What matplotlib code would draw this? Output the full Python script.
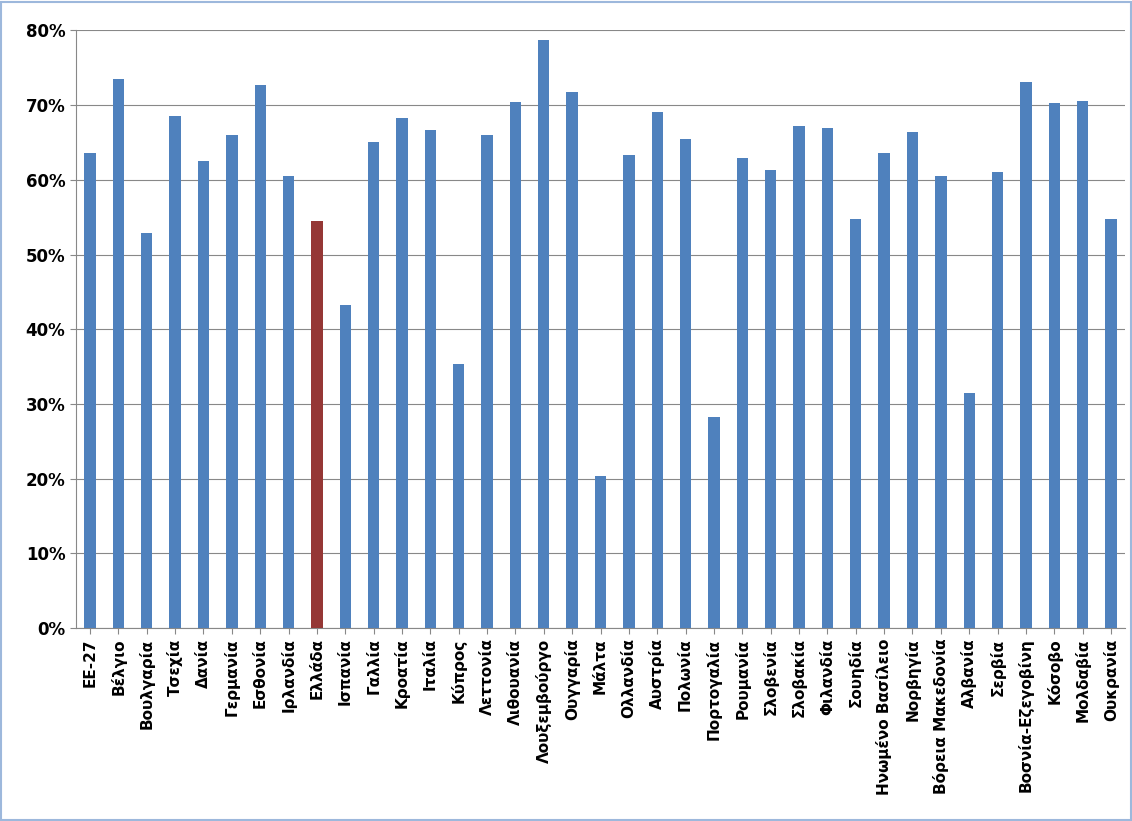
import matplotlib.pyplot as plt
from matplotlib.ticker import PercentFormatter

countries = ['ΕΕ-27', 'Βέλγιο', 'Βουλγαρία', 'Τσεχία', 'Δανία', 'Γερμανία', 'Εσθονία',
             'Ιρλανδία', 'Ελλάδα', 'Ισπανία', 'Γαλλία', 'Κροατία', 'Ιταλία', 'Κύπρος',
             'Λεττονία', 'Λιθουανία', 'Λουξεμβούργο', 'Ουγγαρία', 'Μάλτα', 'Ολλανδία',
             'Αυστρία', 'Πολωνία', 'Πορτογαλία', 'Ρουμανία', 'Σλοβενία', 'Σλοβακία',
             'Φιλανδία', 'Σουηδία', 'Ηνωμένο Βασίλειο', 'Νορβηγία', 'Βόρεια Μακεδονία',
             'Αλβανία', 'Σερβία', 'Βοσνία-Εζεγοβίνη', 'Κόσοβο', 'Μολδαβία', 'Ουκρανία']
values = [63.6, 73.5, 52.9, 68.5, 62.5, 66.0, 72.7, 60.5, 54.5, 43.2, 65.1, 68.3, 66.7,
          35.4, 66.0, 70.4, 78.7, 71.7, 20.3, 63.3, 69.1, 65.4, 28.2, 62.9, 61.3, 67.2,
          66.9, 54.8, 63.6, 66.4, 60.5, 31.4, 61.1, 73.1, 70.3, 70.5, 54.8]
highlight = 'Ελλάδα'

colors = ['#953735' if c == highlight else '#4F81BD' for c in countries]

fig = plt.figure(figsize=(11.32, 8.21), dpi=100)
ax = fig.add_axes([0.067, 0.235, 0.927, 0.728])
ax.bar(range(len(countries)), values, width=0.4, color=colors, zorder=3)
ax.set_xlim(-0.5, len(countries) - 0.5)
ax.set_ylim(0, 80)
ax.set_yticks(range(0, 81, 10))
ax.yaxis.set_major_formatter(PercentFormatter(decimals=0))
ax.grid(axis='y', color='#888888', linewidth=0.8, zorder=0)
ax.set_xticks(range(len(countries)))
ax.set_xticklabels(countries, rotation=90, fontsize=11, fontweight='bold')
for lbl in ax.get_yticklabels():
    lbl.set_fontsize(12)
    lbl.set_fontweight('bold')
for s in ['top', 'right']:
    ax.spines[s].set_visible(False)
ax.spines['left'].set_color('#888888')
ax.spines['bottom'].set_color('#888888')
ax.tick_params(axis='x', length=4, color='#888888')
ax.tick_params(axis='y', length=4, color='#888888')

fig.patches.append(plt.Rectangle((0.001, 0.001), 0.998, 0.997, transform=fig.transFigure,
                                 fill=False, edgecolor='#9DB8DC', linewidth=1.5))
fig.savefig('out.png', dpi=100)
